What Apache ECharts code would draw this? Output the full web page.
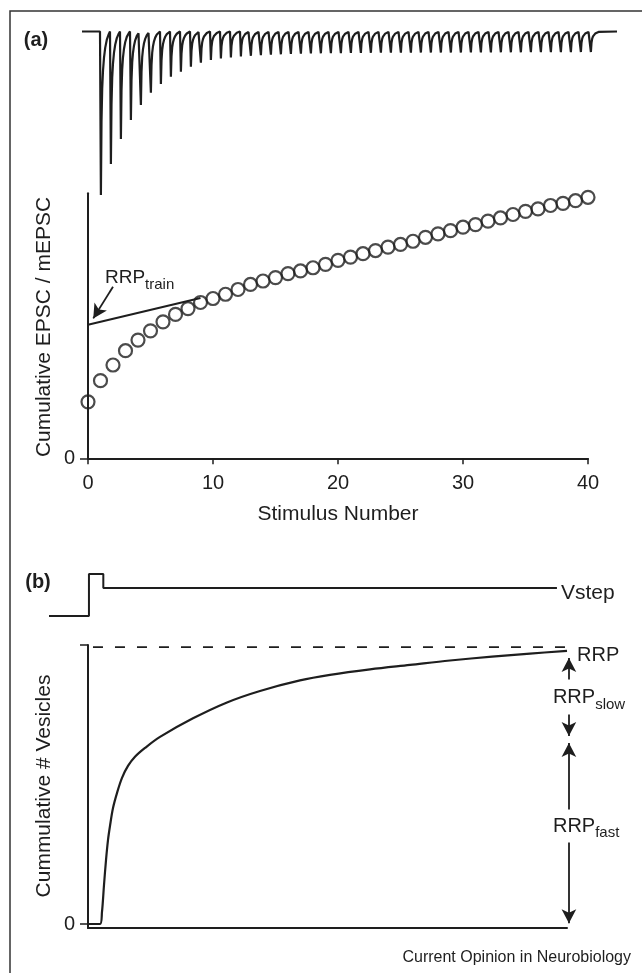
<!DOCTYPE html>
<html><head><meta charset="utf-8">
<script src="https://cdn.jsdelivr.net/npm/echarts@6/dist/echarts.min.js"></script>
<style>html,body{margin:0;padding:0;background:#fff}#c{width:642px;height:973px}</style>
</head><body><div id="c"></div>
<script>
// ---------- Panel (a): EPSC train trace ----------
const trainIntervalMs = 10;
const epscAmplitudes = [163.5, 132.5, 107.5, 88.5, 73.5, 61.2, 52.5, 45.2, 40.2, 35.2,
  31.2, 28.5, 27, 26, 25, 24.3, 23.7, 23.2, 22.8, 22.5,
  22.2, 22, 21.8, 21.7, 21.6, 21.5, 21.4, 21.3, 21.2, 21.2,
  21.1, 21.1, 21, 21, 21, 21, 21, 20.9, 20.9, 20.9,
  20.8, 20.8, 20.8, 20.7, 20.7, 20.7, 20.6, 20.6, 20.5, 20.5];
const epscShapeT = [0, 0.9, 1.5, 2.2, 3.0, 4.0, 5.2, 6.8, 8.5];
const epscShapeV = [0, 1, 0.55, 0.35, 0.24, 0.16, 0.1, 0.05, 0.02];
const traceStart = -18, traceEnd = 517;

// ---------- Panel (a): cumulative EPSC ----------
const stimulusTicks = [0, 10, 20, 30, 40];
const stimulusNumber = [0,1,2,3,4,5,6,7,8,9,10,11,12,13,14,15,16,17,18,19,20,21,22,23,24,25,26,27,28,29,30,31,32,33,34,35,36,37,38,39,40];
const cumulativeEPSC = [21.3, 29.3, 35.2, 40.6, 44.6, 48.1, 51.5, 54.3, 56.5, 58.8,
  60.3, 61.9, 63.7, 65.6, 66.9, 68.2, 69.7, 70.7, 71.9, 73.2,
  74.7, 75.9, 77.2, 78.4, 79.7, 80.7, 81.9, 83.4, 84.7, 85.9,
  87.2, 88.2, 89.5, 90.7, 92.0, 93.2, 94.1, 95.4, 96.2, 97.2, 98.5];
const fitLineX = [0, 9];
const fitLineY = [50.4, 60.5];
const rrpTrainArrowTail = [2.0, 64.7];
const rrpTrainArrowTip = [0.42, 52.8];
const rrpTrainLabelAt = [1.36, 68.3];

// ---------- Panel (b): voltage step ----------
const vstepT = [-8.14, 0.2, 0.2, 3.2, 3.2, 97.9];
const vstepV = [0, 0, 1, 1, 0.667, 0.667];

// ---------- Panel (b): cumulative vesicles ----------
const vesicleT = [0, 2.51, 2.92, 3.34, 3.76, 4.18, 4.59, 5.22, 6.05, 7.10, 8.35, 9.81, 11.9, 15.03, 21.92, 29.02, 35.91, 44.26, 50.52, 58.87, 67.22, 75.57, 84.34, 92.28, 100];
const vesicleV = [0, 0, 4.34, 14.1, 23.1, 30.4, 35.4, 41.9, 47.3, 52.8, 57.1, 60.4, 63.6, 67.6, 74.3, 80.05, 84.2, 88.0, 90.0, 92.0, 93.6, 95.2, 96.6, 97.7, 98.7];
const rrpLevel = 100;
const rrpDashStart = 1.04, rrpDashEnd = 100;
const arrowT = 100.4;
const slowArrow = [96.1, 67.9];
const fastArrow = [65.4, 0.25];
const rrpLabelAt = [106.5, 96.9];
const slowLabelAt = [104.6, 82.0];
const fastLabelAt = [104.0, 35.4];

// ---------- build ----------
const FONT = 'Liberation Sans, Arial, Helvetica, sans-serif';
const INK = '#1e1e1e';

const traceData = [[traceStart, 0]];
epscAmplitudes.forEach((a, i) => {
  const t0 = i * trainIntervalMs;
  epscShapeT.forEach((dt, k) => traceData.push([t0 + dt, -a * epscShapeV[k]]));
});
traceData.push([epscAmplitudes.length * trainIntervalMs, 0]);
traceData.push([traceEnd, 0]);

const scatterData = stimulusNumber.map((s, i) => [s, cumulativeEPSC[i]]);
const fitData = fitLineX.map((x, i) => [x, fitLineY[i]]);
const vstepData = vstepT.map((t, i) => [t, vstepV[i]]);
const vesicleData = vesicleT.map((t, i) => [t, vesicleV[i]]);

const hiddenAxis = (extra) => Object.assign({type: 'value', show: false, splitLine: {show: false}}, extra);

const subRich = (main, sub, mainSize, subSize, drop) => ({
  formatter: '{m|' + main + '}{s|' + sub + '}',
  rich: {
    m: {fontSize: mainSize, fontFamily: FONT, color: INK},
    s: {fontSize: subSize, fontFamily: FONT, color: INK, padding: [drop, 0, 0, 0]}
  }
});

// x-range of the hidden overlay axis on panel (b), same px/unit as the visible axis
const overlayMax = 100 * 550 / 479;

const option = {
  animation: false,
  backgroundColor: '#fff',
  grid: [
    {left: 82, top: 29.5, width: 535, height: 165.5},
    {left: 88, top: 193.3, width: 500, height: 265},
    {left: 49, top: 574, width: 518, height: 42},
    {left: 88, top: 645, width: 479, height: 283},
    {left: 88, top: 645, width: 550, height: 283}
  ],
  xAxis: [
    hiddenAxis({gridIndex: 0, min: traceStart, max: traceEnd}),
    {
      type: 'value', gridIndex: 1, min: 0, max: 40, interval: 10,
      axisLine: {lineStyle: {color: INK, width: 2}},
      axisTick: {show: true, length: 6, lineStyle: {color: INK, width: 1.5}},
      axisLabel: {fontSize: 20, fontFamily: FONT, color: INK, margin: 15},
      splitLine: {show: false},
      name: 'Stimulus Number', nameLocation: 'middle', nameGap: 45,
      nameTextStyle: {fontSize: 21, fontFamily: FONT, color: INK}
    },
    hiddenAxis({gridIndex: 2, min: -8.14, max: 100}),
    {
      type: 'value', gridIndex: 3, min: 0, max: 100,
      axisLine: {show: true, onZero: false, lineStyle: {color: INK, width: 2}},
      axisTick: {show: false}, axisLabel: {show: false}, splitLine: {show: false}
    },
    hiddenAxis({gridIndex: 4, min: 0, max: overlayMax})
  ],
  yAxis: [
    hiddenAxis({gridIndex: 0, min: -163.5, max: 2}),
    {
      type: 'value', gridIndex: 1, min: 0, max: 100,
      axisLine: {show: true, lineStyle: {color: INK, width: 2}},
      axisTick: {show: true, length: 8, customValues: [0], lineStyle: {color: INK, width: 1.5}},
      axisLabel: {fontSize: 20, fontFamily: FONT, color: INK, margin: 13, customValues: [0]},
      splitLine: {show: false}
    },
    hiddenAxis({gridIndex: 2, min: 0, max: 1}),
    {
      type: 'value', gridIndex: 3, min: -1.45, max: 100.8,
      axisLine: {show: true, onZero: false, lineStyle: {color: INK, width: 2}},
      axisTick: {show: true, length: 8, customValues: [0, 100.8], lineStyle: {color: INK, width: 1.5}},
      axisLabel: {fontSize: 20, fontFamily: FONT, color: INK, margin: 13, customValues: [0]},
      splitLine: {show: false}
    },
    hiddenAxis({gridIndex: 4, min: -1.45, max: 100.8})
  ],
  series: [
    {
      type: 'line', xAxisIndex: 0, yAxisIndex: 0, data: traceData, showSymbol: false,
      clip: false, lineStyle: {color: INK, width: 2.2}, silent: true
    },
    {
      type: 'line', xAxisIndex: 1, yAxisIndex: 1, data: fitData, showSymbol: false,
      lineStyle: {color: INK, width: 2}, silent: true
    },
    {
      type: 'scatter', xAxisIndex: 1, yAxisIndex: 1, data: scatterData,
      symbol: 'circle', symbolSize: 13,
      itemStyle: {color: 'rgba(0,0,0,0)', borderColor: INK, borderWidth: 2.2},
      silent: true,
      markLine: {
        silent: true, symbol: ['none', 'arrow'], symbolSize: [11, 14],
        lineStyle: {color: INK, width: 1.8, type: 'solid'}, label: {show: false},
        data: [[{coord: rrpTrainArrowTail}, {coord: rrpTrainArrowTip}]]
      },
      markPoint: {
        silent: true, symbol: 'circle', symbolSize: 0,
        data: [{coord: rrpTrainLabelAt}],
        label: Object.assign({show: true, position: 'inside', align: 'left', verticalAlign: 'middle'},
          subRich('RRP', 'train', 19, 15, 16))
      }
    },
    {
      type: 'line', xAxisIndex: 2, yAxisIndex: 2, data: vstepData, showSymbol: false,
      clip: false, lineStyle: {color: INK, width: 2}, silent: true,
      markPoint: {
        silent: true, symbol: 'circle', symbolSize: 0,
        data: [{coord: [vstepT[vstepT.length - 1], vstepV[vstepV.length - 1]]}],
        label: {show: true, position: 'inside', align: 'left', verticalAlign: 'middle', offset: [4, 5],
          formatter: 'Vstep', fontSize: 21, fontFamily: FONT, color: INK}
      }
    },
    {
      type: 'line', xAxisIndex: 3, yAxisIndex: 3, data: vesicleData, showSymbol: false,
      smooth: 0.35, clip: false, lineStyle: {color: INK, width: 2.2}, silent: true
    },
    {
      type: 'line', xAxisIndex: 4, yAxisIndex: 4,
      data: [[rrpDashStart, rrpLevel], [rrpDashEnd, rrpLevel]], showSymbol: false,
      lineStyle: {color: INK, width: 1.8, type: [10, 12]}, silent: true,
      markLine: {
        silent: true, symbol: ['arrow', 'arrow'], symbolSize: [11, 14],
        lineStyle: {color: INK, width: 1.8, type: 'solid'}, label: {show: false},
        data: [
          [{coord: [arrowT, slowArrow[1]]}, {coord: [arrowT, slowArrow[0]]}],
          [{coord: [arrowT, fastArrow[1]]}, {coord: [arrowT, fastArrow[0]]}]
        ]
      },
      markPoint: {
        silent: true, symbol: 'circle', symbolSize: 0,
        label: {show: true, position: 'inside', align: 'center', verticalAlign: 'middle'},
        data: [
          {coord: rrpLabelAt, label: {formatter: 'RRP', fontSize: 20, fontFamily: FONT, color: INK}},
          {coord: slowLabelAt, label: Object.assign({backgroundColor: '#fff', padding: [2, 1, 2, 1]}, subRich('RRP', 'slow', 20, 15, 16))},
          {coord: fastLabelAt, label: Object.assign({backgroundColor: '#fff', padding: [2, 1, 2, 1]}, subRich('RRP', 'fast', 20, 15, 14))}
        ]
      }
    }
  ],
  graphic: [
    {type: 'rect', shape: {x: 10, y: 11, width: 700, height: 1000}, style: {fill: 'none', stroke: '#333', lineWidth: 1.5}, silent: true, z: -1},
    {type: 'text', x: 36, y: 40, style: {text: '(a)', font: 'bold 20px ' + FONT, fill: INK, align: 'center', verticalAlign: 'middle'}},
    {type: 'text', x: 38, y: 582, style: {text: '(b)', font: 'bold 20px ' + FONT, fill: INK, align: 'center', verticalAlign: 'middle'}},
    {type: 'text', x: 44, y: 327, rotation: Math.PI / 2, style: {text: 'Cumulative EPSC / mEPSC', font: '21px ' + FONT, fill: INK, align: 'center', verticalAlign: 'middle'}},
    {type: 'text', x: 44, y: 786, rotation: Math.PI / 2, style: {text: 'Cummulative # Vesicles', font: '21px ' + FONT, fill: INK, align: 'center', verticalAlign: 'middle'}},
    {type: 'text', x: 631, y: 958, style: {text: 'Current Opinion in Neurobiology', font: '16px ' + FONT, fill: INK, align: 'right', verticalAlign: 'middle'}}
  ]
};

const chart = echarts.init(document.getElementById('c'), null, {renderer: 'canvas'});
chart.setOption(option);
</script>
</body></html>
